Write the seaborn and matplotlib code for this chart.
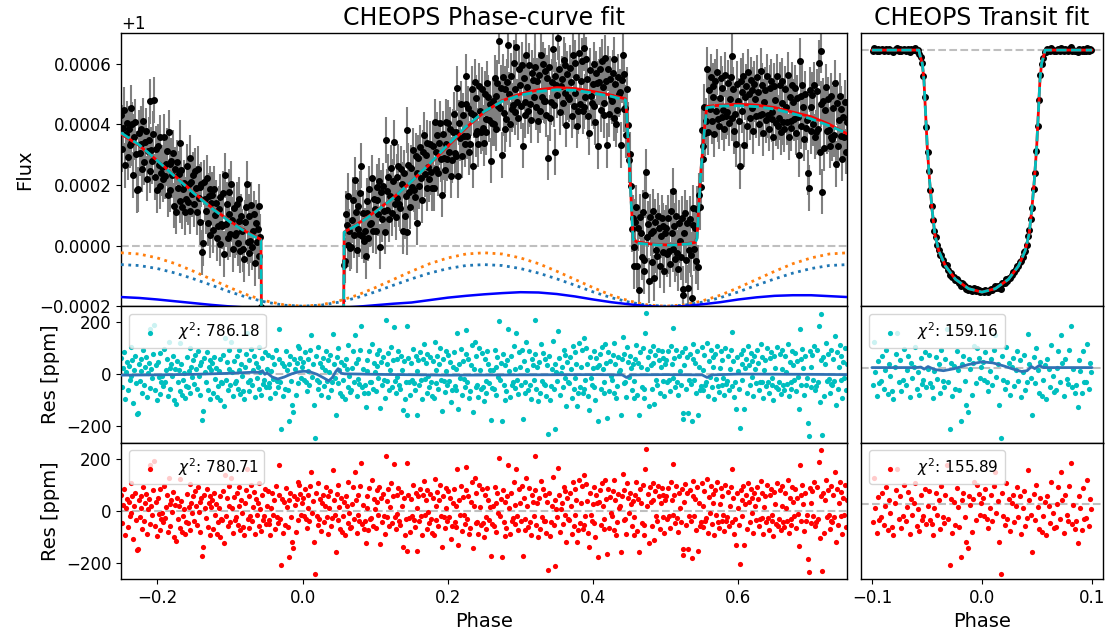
import numpy as np
import pandas as pd
import matplotlib
matplotlib.use("Agg")
import matplotlib.pyplot as plt
import seaborn as sns

# ---------------------------------------------------------------- data
# residuals of the phase-curve fit (ppm), one value per exposure, in phase order
resid_ppm = [
    62, -48, 24, 85, -95, 10, 47, -62, 33, -20, 105, -8, 55, -110, 18, 70, -35, -151, -148, 40,
    -25, 58, 12, -70, 92, -40, 28, 66, -88, 5, 44, 174, -52, 20, -15, 78, 191, -60, 35, -98,
    48, -12, 83, -75, -30, -8, -45, 97, -28, 15, 60, -82, 126, 25, -58, 40, -5, 72, -100, 22,
    -115, 50, -30, 18, 122, -65, 38, -80, -20, 5, -90, -45, 66, -48, 14, 102, -72, 28, -10, 56,
    -38, 74, 20, -55, 90, -5, 35, -80, 48, -174, -141, 62, 10, -28, 84, -62, 30, 55, -95, 15,
    42, -70, 68, -18, 25, -88, -45, 12, -100, 58, -30, -35, 75, -123, 139, -20, 48, -60, 20, 95,
    -42, 126, 10, -85, 52, -35, -25, 70, -55, 18, 92, -75, 40, -8, -64, -95, 28, 80, 159, -30,
    55, -65, -22, 98, -40, 15, 72, -88, 45, -15, 30, 105, -58, 8, -78, 62, -36, -22, 85, -50,
    20, 75, -35, -50, -92, 12, 68, -18, 40, -70, 95, -25, -48, 60, 174, -30, -209, 45, -85, 32,
    -55, 88, 15, -62, -179, 40, 70, -25, -119, -144, 58, 22, -80, 45, 110, -35, 100, 64, -15, 30,
    48, -20, 85, -30, -65, 12, 60, -40, 95, 150, -10, 38, -119, -244, 70, -22, -55, 105, -30, 45,
    -78, 30, 62, -45, 18, 90, -25, 55, -88, 10, 75, -60, -28, 156, 40, -15, -157, 65, -35, 100,
    15, -70, 48, -82, -22, 35, -95, 58, 20, -48, 112, -8, -66, -62, 25, 90, -30, 150, 42, -85,
    60, -18, -38, 95, 184, -50, 22, -70, -40, -125, 55, 12, -72, 88, -30, -28, 118, -58, 45, 8,
    -65, 78, 32, -15, 92, -128, 48, -42, 65, -20, -90, 210, 38, -25, 82, -60, 15, 105, -48, 55,
    181, -25, -70, 60, -12, 88, -40, -55, 72, 18, -138, 50, -95, -30, 184, -155, 62, -28, -80, 45,
    -22, 98, -35, -62, 70, 12, -155, 55, -40, 85, -20, -95, 60, 115, -18, 42, -70, 78, -5, -48,
    65, -30, -85, 50, -92, 123, -35, 18, 72, -58, 40, 100, -20, -141, 58, -25, -68, 88, 12, -40,
    75, -25, 48, -108, -60, 30, 85, -45, 20, -62, 159, -132, 40, -15, 96, -78, 52, -18, -50, 80,
    169, -30, 58, -90, -65, 35, 112, -144, 20, 126, -48, 70, -42, -88, 100, 15, -55, 82, -48, -102,
    60, -25, -70, 88, 40, -35, 15, -174, -52, 18, -58, 92, 30, -80, 68, -10, 204, -20, 45, -179,
    78, -42, 35, -98, -65, 55, 175, 12, -88, 70, -40, -28, 110, -52, 22, 159, -22, -75, 85, 30,
    -40, 95, -172, 50, -72, -30, 125, 18, -62, 88, -42, -95, 60, 35, -20, 78, 210, -55, 30, -102,
    48, -70, 115, -25, 82, -38, 60, -40, -85, 35, -228, 70, -98, -45, 20, 128, -55, -211, 40, 8,
    -25, 165, 62, -80, 5, 30, -50, 92, -15, 75, -121, 48, -30, -35, 68, 20, -90, 110, -58, -15,
    85, 40, -121, -72, 120, -48, 28, 95, -70, 139, -55, -22, 102, 38, -85, -138, 68, -15, -40, 25,
    90, -48, -99, 62, 30, -178, 35, 78, -55, 105, 20, -70, -30, 118, 45, -168, 85, -65, 52, -8,
    -20, 75, 120, -72, 40, -92, -45, 65, 10, 18, -157, 58, 142, -35, 80, -30, -88, 105, 48, -10,
    70, 25, -60, 38, -92, -25, 60, 112, -78, 45, -157, 85, 30, -48, 100, -55, -92, 159, 236, 20,
    65, -122, 90, 35, -58, 108, 42, -112, 75, -20, -40, 95, 55, -70, 30, 88, -25, 62, -85, 40,
    55, -30, 88, -20, -65, 110, 40, -15, 178, 62, -48, 95, -28, -80, 70, 12, -42, 85, -148, -170,
    35, 102, -55, 68, -148, -22, 80, -38, -181, 58, 115, -20, 45, -72, 90, -155, 30, -60, -45, 105,
    18, -62, 75, -40, -28, 122, -85, 52, -10, 95, -50, 65, 30, -95, 80, -18, 110, -45, -68, 25,
    88, -40, 55, -15, -78, 100, -38, -25, 72, -60, 20, 92, 161, -45, 50, -88, -30, -132, 68, 12,
    -55, -205, 78, 40, -20, 95, -132, 25, 60, -70, 108, 35, -42, 82, -10, 50, -85, 70, 20, -35,
    92, 45, -60, -30, 115, -28, 68, -90, 15, 55, -45, 100, -28, -72, 62, 85, -15, -40, -98, 72,
    25, -50, 105, -58, -30, 80, -75, 20, 95, -42, -62, 70, 10, -38, 118, -85, 48, -30, -55, 90,
    35, -20, 82, -65, 50, -12, -135, 174, 60, -40, 98, 25, -78, 70, -40, -15, -187, -237, 88, 30,
    -48, 75, -20, 110, -60, -45, 92, -30, 187, -106, 55, 232, -232, 68, -85, 40, 120, -25, 80, -18,
    -70, 95, -38, -42, 60, -25, 148, -119, 85, -55, 30, 112, -20, 72, -90, 48, -15, 100, -61, 40,
]
phase_first, phase_last = -0.249375, 0.749375   # first / last exposure phase
flux_err_ppm = 75                                # error bar half-length (ppm)

# full model (phase curve + transit + eclipse), ppm relative to 1
model_phase = [-0.25, -0.225, -0.2, -0.175, -0.15, -0.125, -0.1, -0.075, -0.0573,
               -0.0565, -0.0542, -0.0527, -0.0512, -0.0497, -0.0476, -0.0452, -0.0428, -0.0392,
               -0.0332, -0.0241, -0.0121, 0.0, 0.0121, 0.0241, 0.0332, 0.0392, 0.0428, 0.0452,
               0.0476, 0.0497, 0.0512, 0.0527, 0.0542, 0.0565,
               0.0573, 0.075, 0.1, 0.125, 0.15, 0.175, 0.2, 0.225, 0.25, 0.275, 0.3, 0.325, 0.35,
               0.375, 0.4, 0.425, 0.4445, 0.4466, 0.451, 0.455, 0.46, 0.48, 0.5, 0.52, 0.54, 0.543,
               0.548, 0.553, 0.5565, 0.575, 0.6, 0.625, 0.65, 0.675, 0.7, 0.725, 0.75]
model_red = [368, 330, 280, 228, 175, 125, 80, 42, 20,
             -250, -805, -1840, -3925, -5995, -8063, -9938, -11392, -12426,
             -13355, -14178, -14760, -14968, -14756, -14170, -13343, -12411, -11375, -9918,
             -8041, -5971, -3900, -1815, -780, -226,
             44, 70, 112, 158, 212, 268, 328, 388, 440, 478, 500, 514, 521,
             518, 508, 496, 484, 423, 213, 25, 12, 5, 2, 4, 10, 25,
             235, 379, 459, 463, 466, 463, 455, 440, 425, 400, 368]
model_cyan = [372, 332, 280, 226, 173, 123, 78, 40, 18,
              -250, -805, -1840, -3925, -5995, -8063, -9938, -11392, -12426,
              -13355, -14178, -14760, -14968, -14756, -14170, -13343, -12411, -11375, -9918,
              -8041, -5971, -3900, -1815, -780, -226,
              44, 68, 110, 157, 212, 270, 332, 392, 442, 476, 496, 508, 514,
              512, 503, 492, 480, 420, 210, 22, 8, 3, 1, 3, 8, 22,
              232, 375, 455, 460, 461, 458, 450, 435, 418, 395, 370]

# model components (ppm relative to 1)
comp_phase = [-0.25, -0.225, -0.2, -0.175, -0.15, -0.125, -0.1, -0.075, -0.05, -0.025, 0.0,
              0.025, 0.05, 0.075, 0.1, 0.125, 0.15, 0.175, 0.2, 0.225, 0.25, 0.275, 0.3, 0.325,
              0.35, 0.375, 0.4, 0.425, 0.45, 0.475, 0.5, 0.525, 0.55, 0.575, 0.6, 0.625, 0.65,
              0.675, 0.7, 0.725, 0.75]
comp_orange = [-24, -28, -41, -60, -85, -112, -139, -164, -183, -196, -200,
               -196, -183, -164, -139, -112, -85, -60, -41, -28, -24, -28, -41, -60,
               -85, -112, -139, -164, -183, -196, -200, -196, -183, -164, -139, -112, -85,
               -60, -41, -28, -24]
comp_bluedot = [-63, -66, -76, -91, -110, -131, -153, -172, -187, -197, -200,
                -197, -187, -172, -153, -131, -110, -91, -76, -66, -63, -66, -76, -91,
                -110, -131, -153, -172, -187, -197, -200, -197, -187, -172, -153, -131, -110,
                -91, -76, -66, -63]
comp_blue = [-170, -173, -178, -184, -190, -196, -201, -205, -208, -210, -210,
             -209, -206, -202, -197, -192, -188, -180, -172, -166, -161, -157, -154, -155,
             -160, -168, -178, -187, -194, -200, -203, -200, -194, -187, -178, -171, -166,
             -164, -164, -167, -170]

# GP trend on the phase-curve residuals (ppm)
gp_phase = [-0.25, -0.2, -0.15, -0.1, -0.07, -0.058, -0.0553, -0.052, -0.049, -0.042,
            -0.034, -0.025, -0.015, -0.005, 0.002, 0.01, 0.02, 0.03, 0.036, 0.041,
            0.046, 0.049, 0.053, 0.058, 0.1, 0.2, 0.3, 0.4, 0.44, 0.446,
            0.452, 0.5, 0.55, 0.557, 0.563, 0.6, 0.7, 0.75]
gp_ppm = [-3, -2, 0, 4, 8, 8, 14, 0, 6, -10,
          -18, -10, 2, 10, 12, 10, 0, -15, -25, -12,
          12, 22, 4, 2, 0, -3, -2, -1, -2, -12,
          -2, -1, -2, -12, -2, 1, 0, -1]

# transit fit (ppm relative to out-of-transit level)
transit_phase = [-0.1, -0.0573, -0.0565, -0.0542, -0.0527, -0.0512, -0.0497, -0.0476, -0.0452,
                 -0.0428, -0.0392, -0.0332, -0.0241, -0.0121, 0.0, 0.0121, 0.0241, 0.0332,
                 0.0392, 0.0428, 0.0452, 0.0476, 0.0497, 0.0512, 0.0527, 0.0542, 0.0565,
                 0.0573, 0.1]
transit_ppm = [0, 0, -270, -825, -1860, -3945, -6015, -8085, -9960,
               -11415, -12450, -13380, -14205, -14790, -15000, -14790, -14205, -13380,
               -12450, -11415, -9960, -8085, -6015, -3945, -1860, -825, -270,
               0, 0]
# GP trend on the transit residuals (ppm)
gp_t_phase = [-0.1, -0.06, -0.0555, -0.0525, -0.049, -0.046, -0.042, -0.035, -0.025, -0.012,
              0.0, 0.01, 0.02, 0.03, 0.036, 0.041, 0.045, 0.048, 0.052, 0.056, 0.06, 0.1]
gp_t_ppm = [26, 26, 28, 20, 30, 24, 18, 14, 22, 38,
            48, 44, 32, 18, 11, 14, 30, 22, 34, 26, 26, 26]
transit_res_level = 26

chi2 = [786.18, 780.71, 159.16, 155.89]
titles = ["CHEOPS Phase-curve fit", "CHEOPS Transit fit"]

# ---------------------------------------------------------------- style
sns.set_style("ticks", rc={"axes.edgecolor": "black", "text.color": "black",
                           "axes.labelcolor": "black", "xtick.color": "black",
                           "ytick.color": "black"})
plt.rcParams.update({
    "font.family": ["DejaVu Sans"],
    "xtick.labelsize": 12, "ytick.labelsize": 12,
    "axes.labelsize": 14, "axes.titlesize": 17,
    "xtick.major.size": 3.5, "ytick.major.size": 3.5,
    "xtick.direction": "out", "ytick.direction": "out",
    "axes.linewidth": 1.0, "legend.fontsize": 11,
})

# ---------------------------------------------------------------- tables
phase = np.linspace(phase_first, phase_last, len(resid_ppm))
res = np.asarray(resid_ppm, dtype=float)
flux_ppm = np.interp(phase, model_phase, model_red) + res
df = pd.DataFrame({"phase": phase, "flux": 1 + flux_ppm * 1e-6, "res": res})

df_model = pd.DataFrame({"phase": model_phase,
                         "red": 1 + np.asarray(model_red) * 1e-6,
                         "cyan": 1 + np.asarray(model_cyan) * 1e-6})
df_comp = pd.DataFrame({"phase": comp_phase,
                        "orange": 1 + np.asarray(comp_orange) * 1e-6,
                        "bluedot": 1 + np.asarray(comp_bluedot) * 1e-6,
                        "blue": 1 + np.asarray(comp_blue) * 1e-6})
df_gp = pd.DataFrame({"phase": gp_phase, "gp": gp_ppm})

win = df[(df.phase >= -0.1) & (df.phase <= 0.1)].copy()
win["tflux"] = np.interp(win.phase, transit_phase, transit_ppm) + win.res
df_tr = pd.DataFrame({"phase": transit_phase, "model": transit_ppm})
df_gpt = pd.DataFrame({"phase": gp_t_phase, "gp": gp_t_ppm})

# ---------------------------------------------------------------- figure
fig = plt.figure(figsize=(11.1, 6.37), dpi=100)
gs = fig.add_gridspec(3, 2, width_ratios=[3, 1], height_ratios=[2, 1, 1],
                      left=0.109, right=0.9937, top=0.9477, bottom=0.0911,
                      wspace=0.028, hspace=0.0)
ax_pc = fig.add_subplot(gs[0, 0])
ax_r1 = fig.add_subplot(gs[1, 0], sharex=ax_pc)
ax_r2 = fig.add_subplot(gs[2, 0], sharex=ax_pc)
ax_tr = fig.add_subplot(gs[0, 1])
ax_t1 = fig.add_subplot(gs[1, 1], sharex=ax_tr)
ax_t2 = fig.add_subplot(gs[2, 1], sharex=ax_tr)

dash_kw = dict(color="gray", ls="--", alpha=0.5, lw=1.5, zorder=1)
line_kw = dict(errorbar=None, sort=False, legend=False)

# --- phase curve
ax_pc.axhline(1, **dash_kw)
ax_pc.errorbar(df.phase, df.flux, yerr=flux_err_ppm * 1e-6, fmt="o", color="k", ms=4,
               ecolor="gray", elinewidth=1.5, zorder=2)
sns.lineplot(data=df_comp, x="phase", y="orange", color="tab:orange", ls=":", lw=2,
             ax=ax_pc, zorder=3, **line_kw)
sns.lineplot(data=df_comp, x="phase", y="bluedot", color="tab:blue", ls=":", lw=2,
             ax=ax_pc, zorder=3, **line_kw)
sns.lineplot(data=df_comp, x="phase", y="blue", color="blue", lw=1.8,
             ax=ax_pc, zorder=3, **line_kw)
sns.lineplot(data=df_model, x="phase", y="red", color="red", lw=2,
             ax=ax_pc, zorder=4, **line_kw)
sns.lineplot(data=df_model, x="phase", y="cyan", color="c", lw=2, ls="--",
             ax=ax_pc, zorder=5, **line_kw)
ax_pc.set_xlim(-0.25, 0.75)
ax_pc.set_ylim(1 - 0.0002, 1 + 0.0007)
ax_pc.set_yticks([1 - 0.0002, 1.0, 1 + 0.0002, 1 + 0.0004, 1 + 0.0006])
ax_pc.set_ylabel("Flux")
ax_pc.set_xlabel("")
ax_pc.set_title(titles[0])
ax_pc.tick_params(labelbottom=False)

# --- residual panels (phase curve)
for ax, col, c2, with_gp in [(ax_r1, "c", chi2[0], True), (ax_r2, "red", chi2[1], False)]:
    ax.axhline(0, **dash_kw)
    sns.scatterplot(data=df, x="phase", y="res", color=col, s=14, linewidth=0, ax=ax,
                    label=f"$\\chi^2$: {c2:.2f}", zorder=2)
    if with_gp:
        sns.lineplot(data=df_gp, x="phase", y="gp", color="#3171b4", lw=2, ax=ax,
                     zorder=4, **line_kw)
    ax.set_ylim(-262, 262)
    ax.set_ylabel("Res [ppm]")
    ax.legend(loc="upper left", fontsize=11)
ax_r1.set_xlabel("")
ax_r1.tick_params(labelbottom=False)
ax_r2.set_xlabel("Phase")
ax_r2.set_xticks([-0.2, 0.0, 0.2, 0.4, 0.6])

# --- transit
ax_tr.axhline(0, **dash_kw)
ax_tr.errorbar(win.phase, win.tflux, yerr=flux_err_ppm, fmt="o", color="k", ms=4,
               ecolor="gray", elinewidth=1.5, zorder=2)
sns.lineplot(data=df_tr, x="phase", y="model", color="red", lw=2, ax=ax_tr, zorder=4, **line_kw)
sns.lineplot(data=df_tr, x="phase", y="model", color="c", lw=2, ls="--", ax=ax_tr,
             zorder=5, **line_kw)
ax_tr.set_xlim(-0.11, 0.11)
ax_tr.set_ylim(-15870, 1040)
ax_tr.set_title(titles[1])
ax_tr.set_xlabel("")
ax_tr.set_ylabel("")
ax_tr.tick_params(left=False, labelleft=False, labelbottom=False)

for ax, col, c2, with_gp in [(ax_t1, "c", chi2[2], True), (ax_t2, "red", chi2[3], False)]:
    ax.axhline(transit_res_level, **dash_kw)
    sns.scatterplot(data=win, x="phase", y="res", color=col, s=14, linewidth=0, ax=ax,
                    label=f"$\\chi^2$: {c2:.2f}", zorder=2)
    if with_gp:
        sns.lineplot(data=df_gpt, x="phase", y="gp", color="#3171b4", lw=2, ax=ax,
                     zorder=4, **line_kw)
    ax.set_ylim(-262, 262)
    ax.set_ylabel("")
    ax.tick_params(left=False, labelleft=False)
    ax.legend(loc="upper left", fontsize=11)
ax_t1.set_xlabel("")
ax_t1.tick_params(labelbottom=False)
ax_t2.set_xlabel("Phase")
ax_t2.set_xticks([-0.1, 0.0, 0.1])

fig.savefig("out.png", dpi=100)
